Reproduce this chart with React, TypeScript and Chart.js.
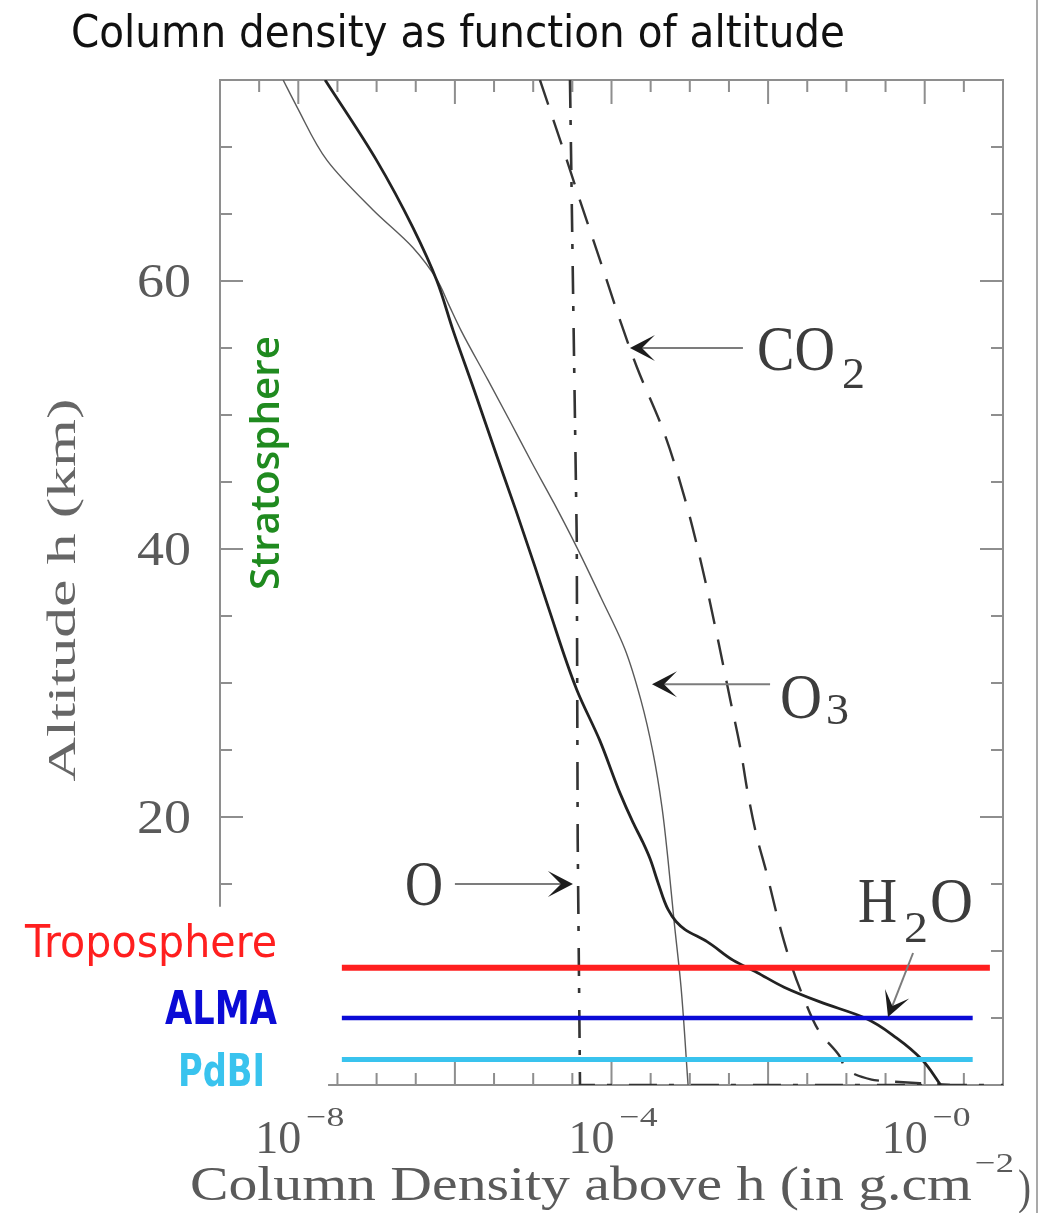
import React, { useEffect, useRef } from 'react';
import { Chart, registerables } from 'chart.js';

Chart.register(...registerables);

// ---- Profiles: altitude (km) and column density above h (g.cm^-2) ----
const ALTITUDE_H2O = [75, 69.0, 64.0, 60.0, 56.3, 51.9, 46.9, 42.9, 38.7, 35.7, 29.5, 25.7, 21.8, 19.6, 18.1, 16.9, 15.1, 13.1, 12.2, 11.6, 10.7, 9.3, 8.4, 7.3, 6.2, 5.0, 3.5, 1.9, 0];
const COLUMN_H2O = [2.2e-8, 1.0e-7, 2.9e-7, 5.9e-7, 9.5e-7, 1.75e-6, 3.45e-6, 6.0e-6, 1.05e-5, 1.55e-5, 3.6e-5, 7.1e-5, 1.28e-4, 1.88e-4, 2.52e-4, 3.1e-4, 3.93e-4, 5.27e-4, 6.67e-4, 8.7e-4, 1.66e-3, 3.6e-3, 7.2e-3, 1.6e-2, 4.6e-2, 0.173, 0.44, 0.92, 1.6];

const ALTITUDE_O3 = [75, 73.0, 69.0, 65.3, 62.5, 60.1, 58.2, 56.3, 52.6, 49.4, 46.4, 43.4, 40.1, 36.4, 32.5, 28.7, 24.8, 20.7, 16.8, 12.3, 7.3, 0];
const COLUMN_O3 = [6.4e-9, 9.6e-9, 2.33e-8, 9.0e-8, 2.9e-7, 5.9e-7, 8.4e-7, 1.2e-6, 2.65e-6, 5.2e-6, 9.7e-6, 1.85e-5, 3.62e-5, 7.3e-5, 1.49e-4, 2.38e-4, 3.39e-4, 4.42e-4, 5.27e-4, 6.28e-4, 7.73e-4, 9.5e-4];

const ALTITUDE_CO2 = [75, 68.3, 66.0, 61.6, 57.1, 53.6, 48.7, 43.7, 38.7, 33.7, 28.7, 25.2, 21.8, 18.5, 16.0, 11.8, 8.8, 6.6, 3.9, 2.1, 0.4, 0];
const COLUMN_CO2 = [1.22e-5, 2.95e-5, 3.96e-5, 7.1e-5, 1.28e-4, 2.1e-4, 4.68e-4, 8.7e-4, 1.43e-3, 2.2e-3, 3.3e-3, 4.4e-3, 5.5e-3, 7.2e-3, 9.4e-3, 1.42e-2, 2.02e-2, 2.8e-2, 4.6e-2, 8.3e-2, 0.21, 2.1];

const ALTITUDE_O = [75, 60.8, 40.7, 18.3, 0, 0];
const COLUMN_O = [2.95e-5, 3.2e-5, 3.6e-5, 3.7e-5, 3.96e-5, 10];

// ---- Reference altitudes (km) ----
const LEVEL_NAMES = ['Troposphere', 'ALMA', 'PdBI'];
const LEVEL_ALTITUDES = [8.75, 5.0, 1.9];
const LEVEL_START = [3.6e-8, 3.6e-8, 3.6e-8];
const LEVEL_END = [6.8, 4.1, 4.1];

// ---- Axes ----
const X_MIN = 1e-9;
const X_MAX = 10;
const Y_MIN = 0;
const Y_MAX = 75;
const Y_TICK_LABELS = [20, 40, 60];
const Y_MINOR_STEP = 5;
const X_TICK_LABEL_EXPONENTS = [-8, -4, 0];
const X_MINOR_STEP_DEC = 0.5;
const X_MAJOR_STEP_DEC = 2;

const SERIF = '"Liberation Serif", "DejaVu Serif", serif';
const SANS = '"DejaVu Sans", Verdana, sans-serif';

const toPoints = (xs: number[], ys: number[]) => xs.map((x, i) => ({ x, y: ys[i] }));

// text squeezed/stretched horizontally to an exact width
function fitText(
  ctx: CanvasRenderingContext2D,
  text: string,
  left: number,
  baseline: number,
  width: number,
  font: string,
  color: string
) {
  ctx.save();
  ctx.font = font;
  ctx.fillStyle = color;
  ctx.textAlign = 'left';
  ctx.textBaseline = 'alphabetic';
  const w = ctx.measureText(text).width || 1;
  ctx.translate(left, baseline);
  ctx.scale(width / w, 1);
  ctx.fillText(text, 0, 0);
  ctx.restore();
}

// vertical text reading bottom-to-top
function fitTextVertical(
  ctx: CanvasRenderingContext2D,
  text: string,
  baselineX: number,
  centerY: number,
  length: number,
  font: string,
  color: string
) {
  ctx.save();
  ctx.translate(baselineX, centerY);
  ctx.rotate(-Math.PI / 2);
  fitText(ctx, text, -length / 2, 0, length, font, color);
  ctx.restore();
}

function drawArrow(ctx: CanvasRenderingContext2D, x1: number, y1: number, x2: number, y2: number) {
  const ang = Math.atan2(y2 - y1, x2 - x1);
  const L = 25;
  const W = 13;
  const notch = 13;
  ctx.save();
  ctx.strokeStyle = '#7c7c7c';
  ctx.lineWidth = 2;
  ctx.beginPath();
  ctx.moveTo(x1, y1);
  ctx.lineTo(x2 - Math.cos(ang) * 8, y2 - Math.sin(ang) * 8);
  ctx.stroke();
  ctx.translate(x2, y2);
  ctx.rotate(ang);
  ctx.beginPath();
  ctx.moveTo(0, 0);
  ctx.lineTo(-L, -W);
  ctx.lineTo(-L + notch, 0);
  ctx.lineTo(-L, W);
  ctx.closePath();
  ctx.fillStyle = '#1c1c1c';
  ctx.fill();
  ctx.restore();
}

const decorations = {
  id: 'decorations',
  beforeDraw(chart: any) {
    const { ctx, width, height } = chart;
    ctx.save();
    ctx.fillStyle = '#ffffff';
    ctx.fillRect(0, 0, width, height);
    ctx.restore();
  },
  beforeDatasetsDraw(chart: any) {
    const ctx: CanvasRenderingContext2D = chart.ctx;
    const xs = chart.scales.x;
    const ys = chart.scales.y;
    const X = (v: number) => xs.getPixelForValue(v);
    const Y = (v: number) => ys.getPixelForValue(v);
    const left = X(X_MIN);
    const right = X(X_MAX);
    const top = Y(Y_MAX);
    const bottom = Y(Y_MIN);
    const leftAxisEnd = Y(13.3);
    const bottomAxisStart = X(2.4e-8);

    ctx.save();
    ctx.strokeStyle = '#8e8e8e';
    ctx.lineWidth = 2;
    ctx.lineCap = 'butt';
    ctx.beginPath();
    ctx.moveTo(left, leftAxisEnd);
    ctx.lineTo(left, top);
    ctx.lineTo(right, top);
    ctx.lineTo(right, bottom);
    ctx.lineTo(bottomAxisStart, bottom);
    ctx.stroke();

    // inward ticks on the vertical axes
    ctx.beginPath();
    for (let km = Y_MINOR_STEP; km < Y_MAX; km += Y_MINOR_STEP) {
      const y = Y(km);
      const len = km % 20 === 0 ? 23 : 12;
      if (y <= leftAxisEnd) {
        ctx.moveTo(left, y);
        ctx.lineTo(left + len, y);
      }
      ctx.moveTo(right, y);
      ctx.lineTo(right - len, y);
    }
    // inward ticks on the horizontal axes
    const lo = Math.log10(X_MIN);
    const hi = Math.log10(X_MAX);
    for (let e = lo + X_MINOR_STEP_DEC; e < hi - 1e-9; e += X_MINOR_STEP_DEC) {
      const x = X(Math.pow(10, e));
      const major = Math.abs(e / X_MAJOR_STEP_DEC - Math.round(e / X_MAJOR_STEP_DEC)) < 1e-6;
      const len = major ? 24 : 12;
      ctx.moveTo(x, top);
      ctx.lineTo(x, top + len);
      if (x >= bottomAxisStart + 4) {
        ctx.moveTo(x, bottom);
        ctx.lineTo(x, bottom - len);
      }
    }
    ctx.stroke();
    ctx.restore();
  },
  afterDatasetsDraw(chart: any) {
    const ctx: CanvasRenderingContext2D = chart.ctx;
    const xs = chart.scales.x;
    const ys = chart.scales.y;
    const X = (v: number) => xs.getPixelForValue(v);
    const Y = (v: number) => ys.getPixelForValue(v);
    const grey = '#5a5a5a';

    // title
    fitText(ctx, 'Column density as function of altitude', 71, 47, 774, `44px ${SANS}`, '#111111');

    // y tick labels
    Y_TICK_LABELS.forEach((v) => {
      fitText(ctx, String(v), 137, Y(v) + 16, 54, `48px ${SERIF}`, grey);
    });
    fitTextVertical(ctx, 'Altitude h (km)', 75, 590, 383, `40px ${SERIF}`, '#666666');

    // x tick labels: 10 with a raised exponent
    X_TICK_LABEL_EXPONENTS.forEach((e) => {
      const x = X(Math.pow(10, e));
      fitText(ctx, '10', x - 43, 1153, 46, `46px ${SERIF}`, grey);
      fitText(ctx, '\u2212' + String(Math.abs(e)), x + 8, 1126, 38, `28px ${SERIF}`, grey);
    });
    fitText(ctx, 'Column Density above h (in g.cm', 190, 1200, 782, `48px ${SERIF}`, grey);
    fitText(ctx, '\u22122', 975, 1172, 39, `28px ${SERIF}`, grey);
    fitText(ctx, ')', 1018, 1203, 13, `48px ${SERIF}`, grey);

    // species labels and arrows
    const ink = '#3c3c3c';
    drawArrow(ctx, X(4.77e-3), Y(55.0), X(1.72e-4), Y(55.0));
    fitText(ctx, 'CO', 757, 370, 78, `64px ${SERIF}`, ink);
    fitText(ctx, '2', 842, 388, 23, `44px ${SERIF}`, ink);

    drawArrow(ctx, X(1.06e-2), Y(29.9), X(3.29e-4), Y(29.9));
    fitText(ctx, 'O', 780, 718, 42, `64px ${SERIF}`, ink);
    fitText(ctx, '3', 826, 724, 23, `44px ${SERIF}`, ink);

    drawArrow(ctx, X(1.0e-6), Y(15.0), X(3.22e-5), Y(15.0));
    fitText(ctx, 'O', 405, 905, 38, `64px ${SERIF}`, ink);

    drawArrow(ctx, X(0.71), Y(9.85), X(0.34), Y(5.07));
    fitText(ctx, 'H', 858, 922, 39, `64px ${SERIF}`, ink);
    fitText(ctx, '2', 904, 942, 24, `44px ${SERIF}`, ink);
    fitText(ctx, 'O', 930, 922, 43, `64px ${SERIF}`, ink);

    // atmosphere layers and observatory sites
    fitTextVertical(ctx, 'Stratosphere', 279, 463, 254, `600 39px "Open Sans", ${SANS}`, '#1f8a1f');
    fitText(ctx, LEVEL_NAMES[0], 25, 957, 252, `44px ${SANS}`, '#ff1f1f');
    fitText(ctx, LEVEL_NAMES[1], 165, 1024, 112, `bold 46px ${SANS}`, '#0b0bd6');
    fitText(ctx, LEVEL_NAMES[2], 178, 1086, 87, `bold 44px ${SANS}`, '#39c3ee');

    // frame of the whole figure on the right
    ctx.save();
    ctx.strokeStyle = '#a9a9a9';
    ctx.lineWidth = 2;
    ctx.beginPath();
    ctx.moveTo(1037, 0);
    ctx.lineTo(1037, chart.height);
    ctx.stroke();
    ctx.restore();
  },
};

export default function App() {
  const canvasRef = useRef<HTMLCanvasElement | null>(null);

  useEffect(() => {
    const canvas = canvasRef.current;
    if (!canvas) return;
    const levelColors = ['#ff1f1f', '#0b0bd6', '#39c3ee'];
    const levelWidths = [6, 4.5, 5];
    const levelSets = LEVEL_NAMES.map((name, i) => ({
      label: name,
      data: [
        { x: LEVEL_START[i], y: LEVEL_ALTITUDES[i] },
        { x: LEVEL_END[i], y: LEVEL_ALTITUDES[i] },
      ],
      borderColor: levelColors[i],
      borderWidth: levelWidths[i],
      pointRadius: 0,
      tension: 0,
    }));

    // profiles are functions of altitude, so they are splined along the y axis
    const profile = {
      indexAxis: 'y',
      pointRadius: 0,
      cubicInterpolationMode: 'monotone',
    };

    const chart = new Chart(canvas, {
      type: 'line',
      data: {
        datasets: [
          ...levelSets,
          {
            ...profile,
            label: 'H2O',
            data: toPoints(COLUMN_H2O, ALTITUDE_H2O),
            borderColor: '#222222',
            borderWidth: 2.8,
          },
          {
            ...profile,
            label: 'CO2',
            data: toPoints(COLUMN_CO2, ALTITUDE_CO2),
            borderColor: '#333333',
            borderWidth: 2.4,
            borderDash: [26, 16],
          },
          {
            label: 'O',
            data: toPoints(COLUMN_O, ALTITUDE_O),
            borderColor: '#333333',
            borderWidth: 2.6,
            borderDash: [28, 12, 5, 17],
            pointRadius: 0,
            tension: 0,
          },
          {
            ...profile,
            label: 'O3',
            data: toPoints(COLUMN_O3, ALTITUDE_O3),
            borderColor: '#5a5a5a',
            borderWidth: 1.4,
          },
        ],
      },
      options: {
        animation: false,
        responsive: false,
        maintainAspectRatio: false,
        devicePixelRatio: 1,
        layout: { padding: { left: 220, top: 80, right: 50, bottom: 128 } },
        plugins: { legend: { display: false }, tooltip: { enabled: false } },
        scales: {
          x: { type: 'logarithmic', min: X_MIN, max: X_MAX, display: false },
          y: { type: 'linear', min: Y_MIN, max: Y_MAX, display: false },
        },
      },
      plugins: [decorations],
    } as any);

    return () => chart.destroy();
  }, []);

  return (
    <div style={{ position: 'absolute', left: 0, top: 0, width: 1053, height: 1213, background: '#fff' }}>
      <canvas ref={canvasRef} width={1053} height={1213} style={{ display: 'block' }} />
    </div>
  );
}
